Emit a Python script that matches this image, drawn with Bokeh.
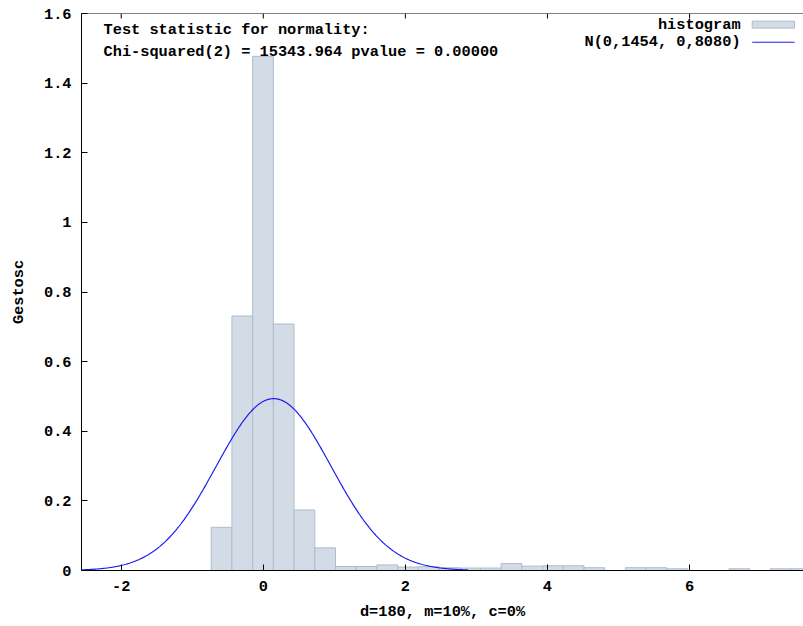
import numpy as np
from bokeh.plotting import figure
from bokeh.models import FixedTicker, Label, BoxAnnotation, Range1d, Span
from bokeh.embed import file_html
from bokeh.resources import INLINE

# ---- data ----
bin_start = -0.733
bin_width = 0.2915
hist_heights = [0.124, 0.731, 1.477, 0.708, 0.174, 0.065, 0.0115, 0.0115, 0.016, 0.010,
                0.011, 0.008, 0.007, 0.007, 0.020, 0.0125, 0.0135, 0.0135, 0.008, 0.0,
                0.008, 0.008, 0.005, 0.0, 0.0, 0.005, 0.0, 0.005, 0.005]
norm_mu = 0.1454
norm_sigma = 0.8080
curve_x_min = -2.56
curve_x_max = 2.88
x_ticks = [-2, 0, 2, 4, 6]
x_tick_labels = ["-2", "0", "2", "4", "6"]
y_ticks = [0, 0.2, 0.4, 0.6, 0.8, 1.0, 1.2, 1.4, 1.6]
y_tick_labels = ["0", "0.2", "0.4", "0.6", "0.8", "1", "1.2", "1.4", "1.6"]
stat_line1 = "Test statistic for normality:"
stat_line2 = "Chi-squared(2) = 15343.964 pvalue = 0.00000"
legend_hist = "histogram"
legend_norm = "N(0,1454, 0,8080)"
x_label = "d=180, m=10%, c=0%"
y_label = "Gestosc"

FONT = "Liberation Mono"
FS = "15.3px"
Y_MAX = 1.6
PX_PER_Y = 557 / Y_MAX

lefts = [bin_start + i * bin_width for i in range(len(hist_heights))]
rights = [l + bin_width for l in lefts]

xs = np.linspace(curve_x_min, curve_x_max, 400)
ys = np.exp(-0.5 * ((xs - norm_mu) / norm_sigma) ** 2) / (norm_sigma * np.sqrt(2 * np.pi))

p = figure(width=803, height=626, output_backend="svg", toolbar_location=None,
           x_range=Range1d(-2.559, 7.604), y_range=Range1d(0, Y_MAX),
           min_border_left=81, min_border_right=0, min_border_top=13, min_border_bottom=56)
p.outline_line_color = None
p.xgrid.visible = False
p.ygrid.visible = False
p.background_fill_color = "white"
p.border_fill_color = "white"

p.quad(left=lefts, right=rights, bottom=0, top=hist_heights,
       fill_color="#d3dce6", line_color="#aebccb", line_width=1)
p.line(xs, ys, line_color="#1c1cf0", line_width=1.2)

# top border with inward ticks (gnuplot style mirror ticks)
p.add_layout(Span(location=Y_MAX, dimension="width", line_color="black", line_width=1))
p.segment(x0=x_ticks, y0=[Y_MAX] * len(x_ticks), x1=x_ticks,
          y1=[Y_MAX - 5 / PX_PER_Y] * len(x_ticks), line_color="black", line_width=1)

def style_axis(ax):
    ax.axis_line_color = "black"
    ax.axis_line_width = 1
    ax.major_tick_in = 6
    ax.major_tick_out = 0
    ax.major_tick_line_color = "black"
    ax.minor_tick_line_color = None
    ax.major_label_text_font = FONT
    ax.major_label_text_font_style = "bold"
    ax.major_label_text_font_size = FS
    ax.major_label_text_color = "black"
    ax.axis_label_text_font = FONT
    ax.axis_label_text_font_style = "bold"
    ax.axis_label_text_font_size = FS
    ax.axis_label_text_color = "black"

xa = p.xaxis[0]
xa.ticker = FixedTicker(ticks=x_ticks)
xa.major_label_overrides = dict(zip(x_ticks, x_tick_labels))
xa.axis_label = x_label
style_axis(xa)
xa.major_label_standoff = 10
xa.axis_label_standoff = 9

ya = p.yaxis[0]
ya.ticker = FixedTicker(ticks=y_ticks)
ya.major_label_overrides = dict(zip(y_ticks, y_tick_labels))
ya.axis_label = y_label
style_axis(ya)
ya.major_label_standoff = 10
ya.axis_label_standoff = 13

for txt, yy in [(stat_line1, 1.554), (stat_line2, 1.490)]:
    p.add_layout(Label(x=-2.249, y=yy, text=txt, text_font=FONT, text_font_style="bold",
                       text_font_size=FS, text_baseline="middle", text_align="left",
                       text_color="black"))

p.add_layout(Label(x=6.718, y=1.5665, text=legend_hist, text_font=FONT, text_font_style="bold",
                   text_font_size=FS, text_baseline="middle", text_align="right", text_color="black"))
p.add_layout(Label(x=6.718, y=1.5177, text=legend_norm, text_font=FONT, text_font_style="bold",
                   text_font_size=FS, text_baseline="middle", text_align="right", text_color="black"))
p.add_layout(BoxAnnotation(left=6.882, right=7.478, bottom=1.558, top=1.578,
                           fill_color="#d3dce6", fill_alpha=1, line_color="#aebccb", line_alpha=1))
p.add_layout(BoxAnnotation(left=6.882, right=7.478, bottom=1.5163, top=1.5191,
                           fill_color="#1c1cf0", fill_alpha=1, line_color=None))

open("out.html", "w").write(file_html(p, INLINE))
